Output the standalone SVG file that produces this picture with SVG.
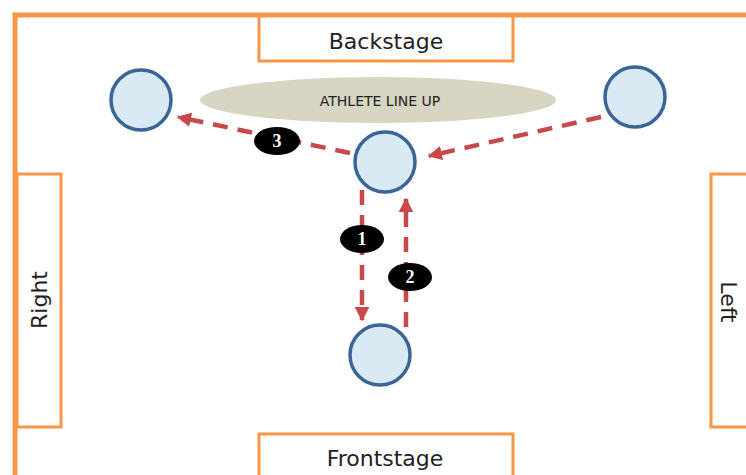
<svg xmlns="http://www.w3.org/2000/svg" width="746" height="475" viewBox="0 0 746 475">
<defs>
<style>
.box{fill:#ffffff;stroke:#f79646;stroke-width:3}
.lbl{font-family:"DejaVu Sans","Liberation Sans",sans-serif;fill:#222;}
.node{fill:#d9eaf5;stroke:#3a6597;stroke-width:3.5}
.conn{stroke:#c9484b;stroke-width:4.5;stroke-dasharray:15 10;fill:none}
.badge{fill:#000}
.num{font-family:"Liberation Serif",serif;font-weight:bold;font-size:18px;fill:#fff;text-anchor:middle}
</style>
<marker id="ah" viewBox="0 0 10 10" refX="9" refY="5" markerWidth="3.2" markerHeight="3.2" orient="auto" markerUnits="strokeWidth">
<path d="M0,0 L10,5 L0,10 z" fill="#c9484b"/>
</marker>
</defs>
<rect width="746" height="475" fill="#ffffff"/>
<rect x="15" y="15" width="760" height="500" fill="none" stroke="#f79646" stroke-width="5"/>
<g id="backstage">
<rect class="box" x="259" y="16" width="254" height="45"/>
<text class="lbl" x="386" y="49" font-size="22" text-anchor="middle">Backstage</text>
</g>
<g id="frontstage">
<rect class="box" x="259" y="434" width="254" height="60"/>
<text class="lbl" x="385" y="466" font-size="22" text-anchor="middle">Frontstage</text>
</g>
<g id="right">
<rect class="box" x="17" y="174" width="44" height="253"/>
<text class="lbl" x="0" y="0" font-size="22" text-anchor="middle" transform="translate(47,300) rotate(-90)">Right</text>
</g>
<g id="left">
<rect class="box" x="711" y="174" width="60" height="253"/>
<text class="lbl" x="0" y="0" font-size="22" text-anchor="middle" transform="translate(721,302) rotate(90)">Left</text>
</g>
<g id="lineup">
<ellipse cx="378" cy="100" rx="178" ry="23" fill="#d8d5c3"/>
<text class="lbl" x="380" y="106" font-size="14" text-anchor="middle">ATHLETE LINE UP</text>
</g>
<g id="connectors">
<line class="conn" x1="350" y1="153" x2="178" y2="117" marker-end="url(#ah)"/>
<line class="conn" x1="601" y1="117" x2="429" y2="156" marker-end="url(#ah)"/>
<line class="conn" x1="362" y1="190" x2="362" y2="320" marker-end="url(#ah)"/>
<line class="conn" x1="406" y1="327" x2="406" y2="199" marker-end="url(#ah)"/>
</g>
<g id="node-left"><circle class="node" cx="141" cy="100" r="30"/></g>
<g id="node-right"><circle class="node" cx="635" cy="97" r="30"/></g>
<g id="node-center"><circle class="node" cx="385" cy="162" r="30"/></g>
<g id="node-bottom"><circle class="node" cx="380" cy="355" r="30"/></g>
<g id="badge-3"><ellipse class="badge" cx="277" cy="141" rx="23" ry="14"/><text class="num" x="277" y="147">3</text></g>
<g id="badge-1"><ellipse class="badge" cx="362" cy="239" rx="22" ry="14"/><text class="num" x="362" y="245">1</text></g>
<g id="badge-2"><ellipse class="badge" cx="410" cy="277" rx="22" ry="14"/><text class="num" x="410" y="283">2</text></g>
</svg>
